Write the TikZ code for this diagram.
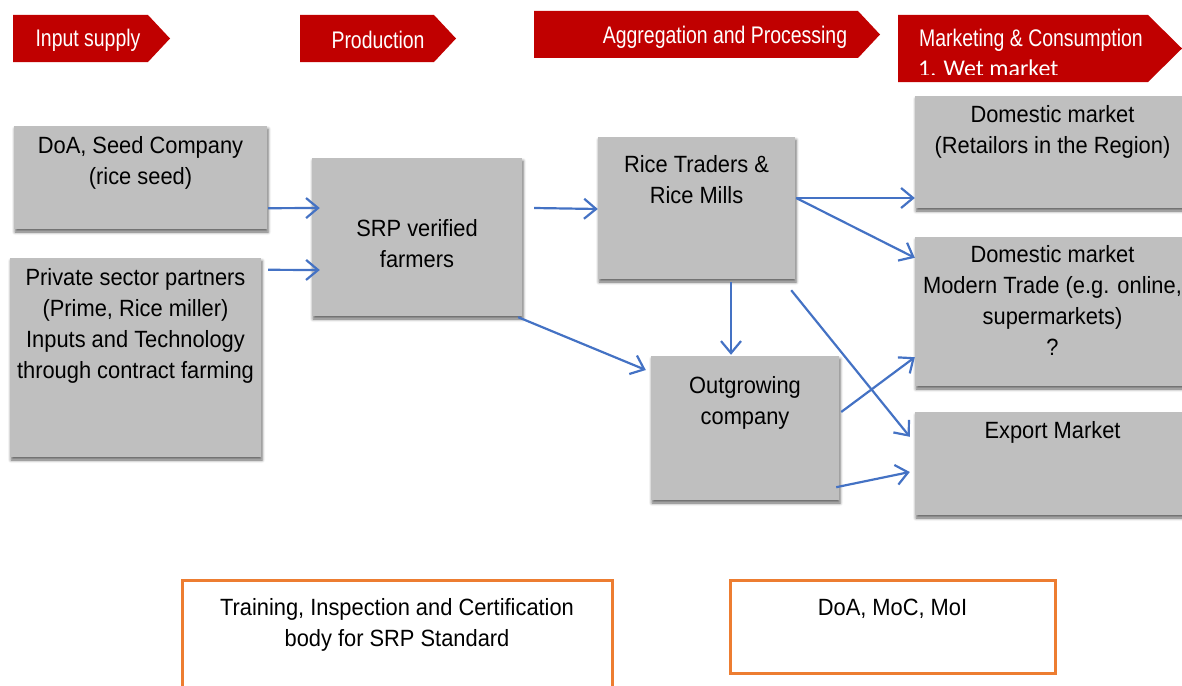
\documentclass[tikz,border=0pt]{standalone}
\usepackage{fontspec}
\setmainfont{Liberation Sans}
\newfontfamily\hdrfont[FakeStretch=0.81]{Liberation Sans}
\newfontfamily\boxfont[FakeStretch=0.93]{Liberation Sans}
\newfontfamily\wetfont{Carlito}
\usepackage{tikz}
\usetikzlibrary{arrows.meta,positioning,shadows.blur}
\definecolor{hdrred}{HTML}{C00000}
\definecolor{boxgray}{HTML}{BFBFBF}
\definecolor{flowblue}{HTML}{4472C4}
\definecolor{boxorange}{HTML}{ED7D31}
\tikzstyle{hdr} = [fill=hdrred]
\tikzstyle{hdrtxt} = [text=white, inner sep=0pt,
                      font=\hdrfont\fontsize{24}{28}\selectfont]
\tikzstyle{graybox} = [rectangle, sharp corners, fill=boxgray, inner sep=0pt,
                       blur shadow={shadow xshift=1pt, shadow yshift=-3pt,
                       shadow blur radius=3pt, shadow opacity=60}]
\tikzstyle{orangebox} = [rectangle, sharp corners, draw=boxorange, fill=white,
                         line width=3pt, inner sep=0pt]
\tikzstyle{boxtxt} = [align=center, inner sep=0pt,
                      font=\boxfont\fontsize{23.5}{31}\selectfont]
\tikzstyle{flow} = [draw=flowblue, line width=2.2pt,
                    -{Straight Barb[length=12pt,width=20pt]}]

\begin{document}
\begin{tikzpicture}[x=1pt,y=-1pt]
\useasboundingbox (0,0) rectangle (1182,685);
%Headers
\fill[hdr] (13,15) -- (148,15) -- (170,38.5) -- (148,62) -- (13,62) -- cycle;
\node[hdrtxt] at (88,40) (inputhdr){Input supply};
\fill[hdr] (300,15) -- (434,15) -- (456,38.5) -- (434,62) -- (300,62) -- cycle;
\node[hdrtxt] at (378,40) (prodhdr){Production};
\fill[hdr] (534,11) -- (858,11) -- (880,34.5) -- (858,58) -- (534,58) -- cycle;
\node[hdrtxt] at (725,37) (agghdr){Aggregation and Processing};
\fill[hdr] (898,15) -- (1148,15) -- (1182,48.5) -- (1148,82) -- (898,82) -- cycle;
\node[hdrtxt] at (1031,40) (markethdr){Marketing \& Consumption};
\begin{scope}
\clip (898,15) rectangle (1148,74);
\node[text=white, inner sep=0pt, anchor=base west, font=\wetfont\fontsize{24}{28}\selectfont] at (918,77) (wettxt){1. Wet market};
\end{scope}

%Input supply
\node[graybox, minimum width=253pt, minimum height=103pt] at (140.5,177.5) (seed){};
\node[boxtxt, below=10pt of seed.north] (seedtxt){DoA, Seed Company\\(rice seed)};
\node[graybox, minimum width=251pt, minimum height=199pt] at (135.5,357.5) (partners){};
\node[boxtxt, below=10pt of partners.north] (partnerstxt){Private sector partners\\(Prime, Rice miller)\\Inputs and Technology\\through contract farming};

%Production
\node[graybox, minimum width=210pt, minimum height=158pt] at (417,237) (farmers){};
\node[boxtxt, below=61pt of farmers.north] (farmerstxt){SRP verified\\farmers};

%Aggregation
\node[graybox, minimum width=197pt, minimum height=142pt] at (696.5,208) (traders){};
\node[boxtxt, below=18pt of traders.north] (traderstxt){Rice Traders \&\\Rice Mills};
\node[graybox, minimum width=188pt, minimum height=144pt] at (745,428) (outgrow){};
\node[boxtxt, below=20pt of outgrow.north] (outgrowtxt){Outgrowing\\company};

%Markets
\node[graybox, minimum width=275pt, minimum height=112pt] at (1052.5,152) (retail){};
\node[boxtxt, below=9pt of retail.north] (retailtxt){Domestic market\\(Retailors in the Region)};
\node[graybox, minimum width=275pt, minimum height=149pt] at (1052.5,311.5) (modern){};
\node[boxtxt, below=8pt of modern.north] (moderntxt){Domestic market\\Modern Trade (e.g. online,\\supermarkets)\\?};
\node[graybox, minimum width=275pt, minimum height=103pt] at (1052.5,463.5) (export){};
\node[boxtxt, below=9pt of export.north] (exporttxt){Export Market};

%Support
\node[orangebox, minimum width=430pt, minimum height=115pt] at (397,637.5) (training){};
\node[boxtxt, below=20pt of training.north] (trainingtxt){Training, Inspection and Certification\\body for SRP Standard};
\node[orangebox, minimum width=325pt, minimum height=93pt] at (892.5,626.5) (ministry){};
\node[boxtxt, below=20pt of ministry.north] (ministrytxt){DoA, MoC, MoI};

%Flows
\draw[flow] ([shift={(1,-21)}]seed.south east) -- ([shift={(8,-29)}]farmers.west);
\draw[flow] ([shift={(7,12)}]partners.north east) -- ([shift={(8,33)}]farmers.west);
\draw[flow] ([shift={(12,-29)}]farmers.east) -- ([shift={(0,1)}]traders.west);
\draw[flow] ([shift={(1,-10)}]traders.east) -- ([shift={(0,46)}]retail.west);
\draw[flow] ([shift={(1,-10)}]traders.east) -- ([shift={(0,21)}]modern.north west);
\draw[flow] ([shift={(34.5,3)}]traders.south) -- ([shift={(-14,-1)}]outgrow.north);
\draw[flow] ([shift={(-4,11)}]traders.south east) -- ([shift={(-5,25)}]export.north west);
\draw[flow] ([shift={(-4,1)}]farmers.south east) -- ([shift={(-5,-58)}]outgrow.west);
\draw[flow] ([shift={(2,-16)}]outgrow.east) -- ([shift={(0,-29)}]modern.south west);
\draw[flow] ([shift={(-3,-13)}]outgrow.south east) -- ([shift={(-5,8.5)}]export.west);
\end{tikzpicture}
\end{document}
